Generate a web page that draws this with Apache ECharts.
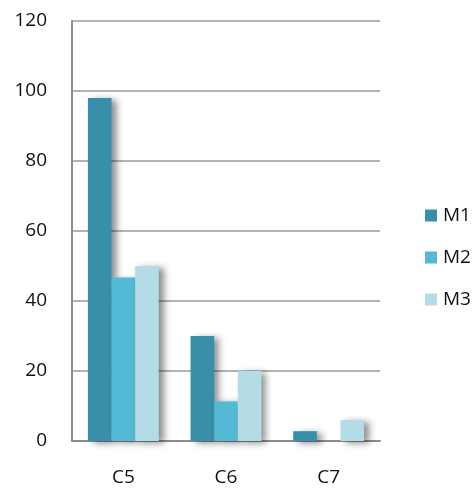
<!DOCTYPE html>
<html>
<head>
<meta charset="utf-8">
<script src="https://cdn.jsdelivr.net/npm/echarts@6/dist/echarts.min.js"></script>
<style>
  html, body { margin: 0; padding: 0; background: #fff; }
  #chart { width: 475px; height: 491px; }
</style>
</head>
<body>
<div id="chart"></div>
<script>
// Categories and series values
var categories = ['C5', 'C6', 'C7'];
var seriesNames = ['M1', 'M2', 'M3'];
var m1 = [98, 30, 2.8];
var m2 = [46.7, 11.3, 0];
var m3 = [50, 20, 6];
var yTicks = { min: 0, max: 120, interval: 20 };

var colors = ['#378fa9', '#53b9d5', '#b4dce7'];
var values = [m1, m2, m3];
var font = '"Open Sans", "Liberation Sans", sans-serif';

var chart = echarts.init(document.getElementById('chart'), null, { renderer: 'canvas' });

chart.setOption({
  animation: false,
  textStyle: { fontFamily: font },
  grid: { left: 72, right: 95, top: 21, bottom: 50, containLabel: false },
  legend: {
    orient: 'vertical',
    left: 420,
    top: 201,
    itemWidth: 12,
    itemHeight: 12,
    itemGap: 23,
    icon: 'rect',
    data: seriesNames,
    textStyle: { fontSize: 19, color: '#111', fontFamily: font, padding: [0, 0, 0, 1] }
  },
  xAxis: {
    type: 'category',
    data: categories,
    axisLine: { lineStyle: { color: '#8c8c8c', width: 2 } },
    axisTick: { show: false },
    axisLabel: { fontSize: 19, color: '#111', margin: 27, fontFamily: font }
  },
  yAxis: {
    type: 'value',
    min: yTicks.min,
    max: yTicks.max,
    interval: yTicks.interval,
    axisLine: { show: true, lineStyle: { color: '#8c8c8c', width: 2 } },
    axisTick: { show: false },
    axisLabel: { fontSize: 19, color: '#111', margin: 25, fontFamily: font },
    splitLine: { lineStyle: { color: '#9a9a9a', width: 1.5 } }
  },
  series: seriesNames.map(function (name, i) {
    return {
      name: name,
      type: 'bar',
      data: values[i],
      barGap: '0%',
      barCategoryGap: '31%',
      itemStyle: {
        color: colors[i],
        shadowColor: 'rgba(0,0,0,0.45)',
        shadowBlur: 7,
        shadowOffsetX: 5,
        shadowOffsetY: 2
      }
    };
  })
});
</script>
</body>
</html>
